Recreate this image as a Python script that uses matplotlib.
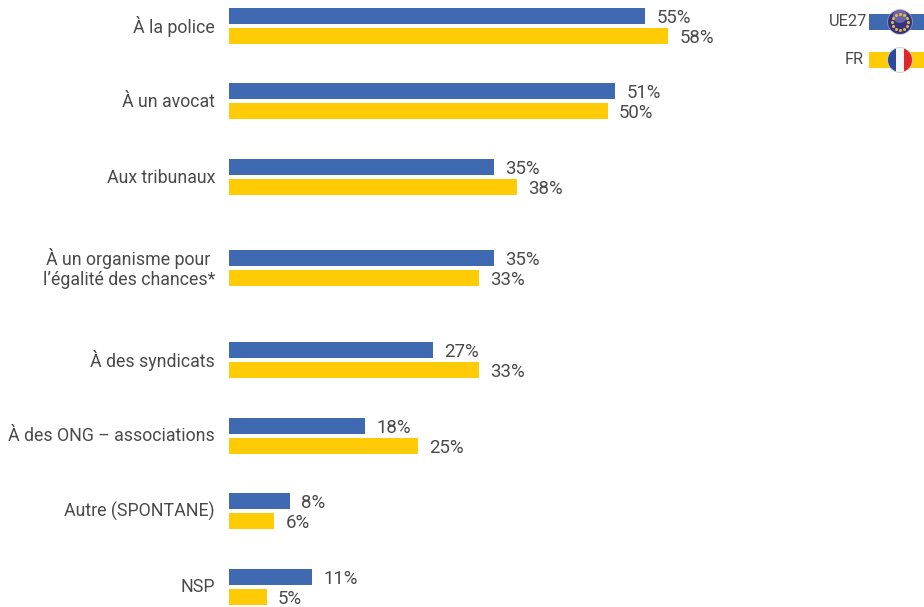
import matplotlib
matplotlib.use("Agg")
import matplotlib.pyplot as plt
from matplotlib.patches import Circle, Rectangle

# Chart data
categories = [
    "À la police",
    "À un avocat",
    "Aux tribunaux",
    "À un organisme pour \nl’égalité des chances*",
    "À des syndicats",
    "À des ONG – associations",
    "Autre (SPONTANE)",
    "NSP",
]
eu_values = [55, 51, 35, 35, 27, 18, 8, 11]
fr_values = [58, 50, 38, 33, 33, 25, 6, 5]
eu_label = "UE27"
fr_label = "FR"

BLUE = "#3f69b0"
YELLOW = "#ffcb05"
TEXT = "#4a4a4c"
W, H = 924, 607
X0 = 229
PX_PER_PCT = 7.57
LABEL_SIZE = 12.8
VALUE_SIZE = 13.4
LEGEND_SIZE = 11.8

plt.rcParams["font.family"] = ["Roboto", "DejaVu Sans"]

# Group rows in pixels from the top, spacing is uneven in the original
group_y = [25.5, 101, 177, 268, 360, 435.5, 511, 586.5]
bar_h = 16
half_gap = 10

fig = plt.figure(figsize=(W / 100, H / 100), dpi=100)
ax = fig.add_axes([X0 / W, 0, 1 - X0 / W, 1])
ax.set_xlim(0, (W - X0) / PX_PER_PCT)
ax.set_ylim(H, 0)
ax.axis("off")

for i, name in enumerate(categories):
    y = group_y[i]
    ax.barh(y - half_gap, eu_values[i], height=bar_h, color=BLUE)
    ax.barh(y + half_gap, fr_values[i], height=bar_h, color=YELLOW)
    ax.annotate(f"{eu_values[i]}%", (eu_values[i], y - half_gap), xytext=(8, -1.5),
                textcoords="offset points", va="center", fontsize=VALUE_SIZE, color=TEXT)
    ax.annotate(f"{fr_values[i]}%", (fr_values[i], y + half_gap), xytext=(8, -1.5),
                textcoords="offset points", va="center", fontsize=VALUE_SIZE, color=TEXT)
    ax.annotate(name, (0, y), xytext=(-10, -0.5), textcoords="offset points", ha="right",
                va="center", fontsize=LABEL_SIZE, color=TEXT, annotation_clip=False,
                linespacing=1.15, multialignment="right")

# Legend and flags are drawn on an overlay in pixel coordinates
over = fig.add_axes([0, 0, 1, 1], facecolor="none")
over.set_xlim(0, W)
over.set_ylim(H, 0)
over.axis("off")

over.add_patch(Rectangle((869, 14), 55, 16, color=BLUE, lw=0))
over.add_patch(Rectangle((869, 52), 55, 16, color=YELLOW, lw=0))
over.text(867, 22, eu_label, ha="right", va="center", fontsize=LEGEND_SIZE, color=TEXT)
over.text(864, 60, fr_label, ha="right", va="center", fontsize=LEGEND_SIZE, color=TEXT)

# EU flag
over.add_patch(Circle((900, 22), 13, color="#a9a9b2", lw=0, alpha=0.6))
over.add_patch(Circle((900, 22), 12, color="#37327f", lw=0))
over.add_patch(Circle((900, 16), 7, color="#9c98cc", lw=0, alpha=0.5))
star_x = [900, 904, 907, 908, 907, 904, 900, 896, 893, 892, 893, 896]
star_y = [14, 15, 18, 22, 26, 29, 30, 29, 26, 22, 18, 15]
over.scatter(star_x, star_y, s=5, marker="o", color="#d9b84a", linewidths=0)

# French flag
clip = Circle((900, 60), 12, transform=over.transData)
over.add_patch(Circle((900, 60), 13, color="#c8c8c8", lw=0, alpha=0.8))
for left, width, colour in [(888, 8, "#2a4a9e"), (896, 8, "#f6f6f6"), (904, 8, "#e0252b")]:
    band = Rectangle((left, 48), width, 24, color=colour, lw=0)
    over.add_patch(band)
    band.set_clip_path(clip)

fig.savefig("out.png", dpi=100, facecolor="white")
plt.close(fig)
